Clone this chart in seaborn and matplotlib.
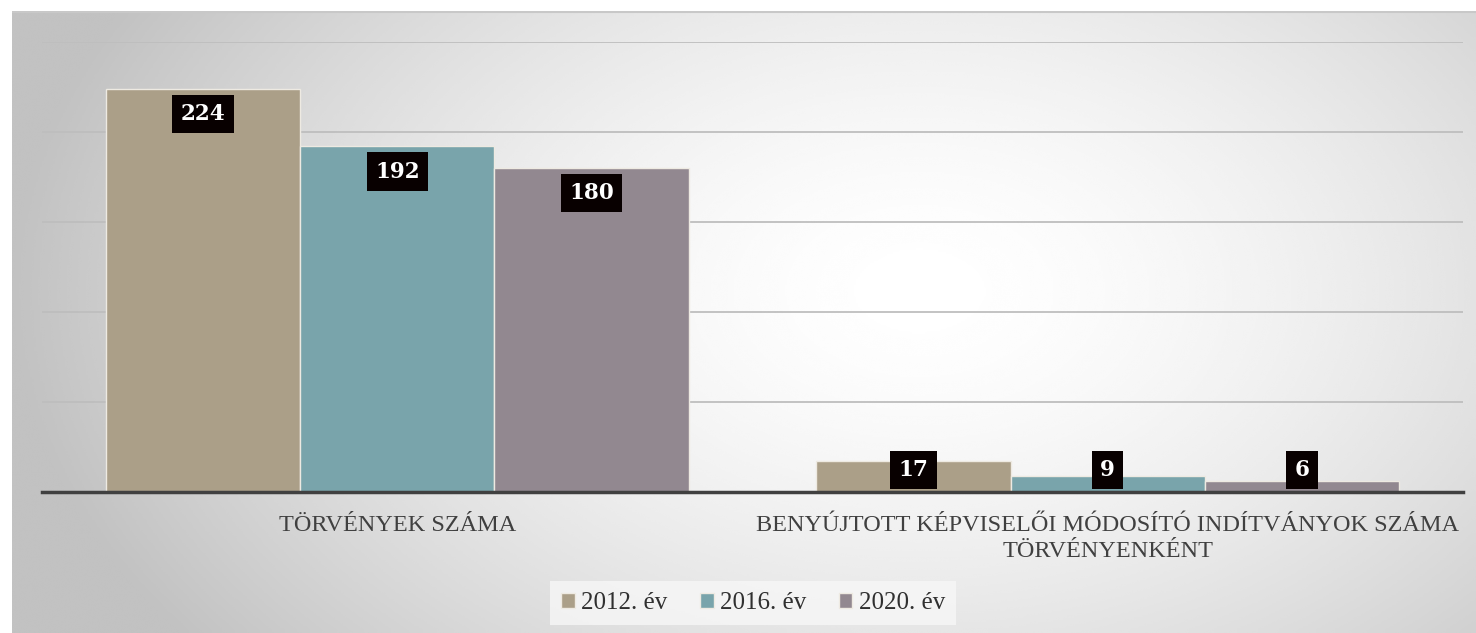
import numpy as np
import pandas as pd
import matplotlib.pyplot as plt
import seaborn as sns
from matplotlib.patches import Patch

# adatok
kategoriak = ["TÖRVÉNYEK SZÁMA",
              "BENYÚJTOTT KÉPVISELŐI MÓDOSÍTÓ INDÍTVÁNYOK SZÁMA\nTÖRVÉNYENKÉNT"]
evek = ["2012. év", "2016. év", "2020. év"]
ertekek_2012 = [224, 17]
ertekek_2016 = [192, 9]
ertekek_2020 = [180, 6]
szinek = ["#ab9f88", "#79a4ab", "#928890"]

df = pd.DataFrame({
    "kategoria": kategoriak * 3,
    "ev": [evek[0]] * 2 + [evek[1]] * 2 + [evek[2]] * 2,
    "ertek": ertekek_2012 + ertekek_2016 + ertekek_2020,
})

sns.set_style("white")
plt.rcParams["font.family"] = ["Liberation Serif", "DejaVu Serif"]

W, H = 1476, 633
fig = plt.figure(figsize=(W / 100, H / 100), dpi=100)
fig.patch.set_facecolor("white")

# háttér: radiális átmenet
bg = fig.add_axes([12 / W, 0, 1 - 12 / W, (H - 11) / H], zorder=0)
yy, xx = np.mgrid[0:1:300j, 0:1:700j]
r = np.sqrt(((xx - 0.62) / 0.62) ** 2 + ((yy - 0.45) / 0.95) ** 2)
shade = 1 - 0.24 * np.clip(r, 0, 1) ** 1.6
bg.imshow(shade, cmap="gray", vmin=0, vmax=1, aspect="auto",
          extent=[0, 1, 1, 0], interpolation="bicubic")
bg.axhline(0.001, color="#c8c8c8", lw=1.5)
bg.set_axis_off()

ax = fig.add_axes([42 / W, 1 - 492 / H, 1421 / W, 450 / H], zorder=1)
ax.patch.set_alpha(0)

sns.barplot(data=df, x="kategoria", y="ertek", hue="ev", palette=szinek,
            width=0.82, gap=0, saturation=1, edgecolor="#eeeae2",
            linewidth=1, ax=ax, legend=False, zorder=2)

ax.set_ylim(0, 250)
ax.set_yticks([50, 100, 150, 200, 250])
ax.yaxis.grid(True, color="#bebebe", lw=1.3)
ax.set_axisbelow(True)
ax.tick_params(axis="y", left=False, labelleft=False)
ax.tick_params(axis="x", bottom=False, pad=13)
for s in ["top", "right", "left"]:
    ax.spines[s].set_visible(False)
ax.spines["bottom"].set_color("#404040")
ax.spines["bottom"].set_linewidth(2.5)
ax.spines["bottom"].set_zorder(5)
ax.set_xlabel("")
ax.set_ylabel("")
ax.set_xticks(range(len(kategoriak)))
ax.set_xticklabels(kategoriak, fontsize=17.5, color="#404040",
                   linespacing=1.3)

# adatcímkék
for cont in ax.containers:
    for p in cont:
        v = p.get_height()
        y = max(v - 14, 12.2)
        ax.text(p.get_x() + p.get_width() / 2, y, f"{v:.0f}",
                ha="center", va="center", color="white", fontsize=15.5,
                fontweight="bold", family=["DejaVu Serif"], zorder=6,
                bbox=dict(boxstyle="square,pad=0.38", fc="#080000",
                          ec="none"))

handles = [Patch(facecolor=c, edgecolor="#eeeae2") for c in szinek]
leg = fig.legend(handles, evek, loc="center", ncol=3,
                 bbox_to_anchor=(753 / W, 1 - 603 / H), fontsize=18,
                 frameon=True, fancybox=False, handlelength=0.55,
                 handleheight=0.55, handletextpad=0.25, columnspacing=1.3,
                 borderpad=0.45)
leg.get_frame().set_facecolor("#f7f7f7")
leg.get_frame().set_edgecolor("none")
for t in leg.get_texts():
    t.set_color("#303030")

fig.savefig("out.png", dpi=100)
